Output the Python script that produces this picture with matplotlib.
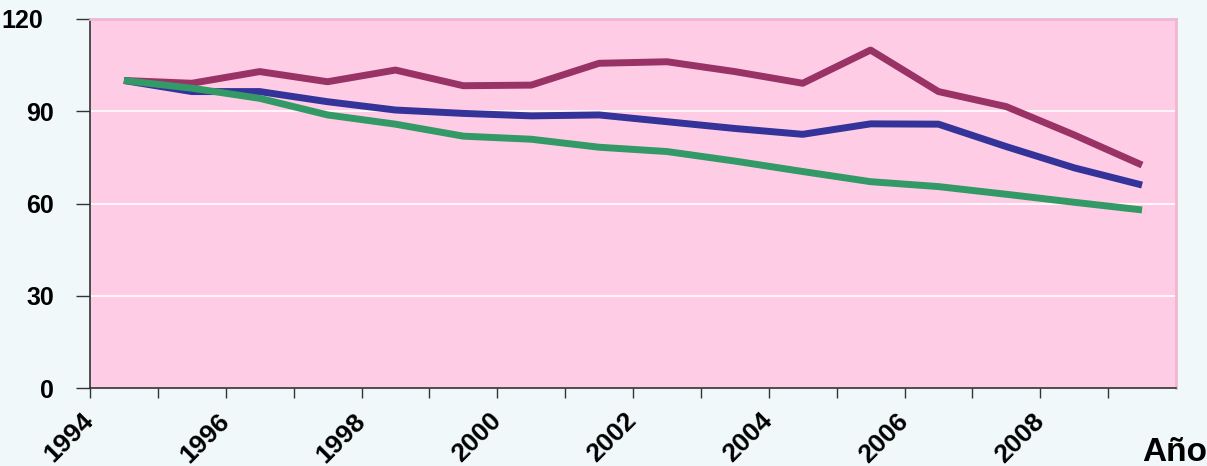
import matplotlib
matplotlib.use("Agg")
import matplotlib.pyplot as plt
import matplotlib.ticker as mticker
from matplotlib.transforms import ScaledTranslation
import numpy as np

plt.rcParams.update({
    "font.family": ["Liberation Sans", "DejaVu Sans"],
    "font.weight": "bold",
})

# Index values (base 1994 = 100), one value per year
years = list(range(1994, 2010))
serie_roja = [100, 99.1, 102.9, 99.6, 103.4, 98.3, 98.5, 105.6, 106.1, 102.9,
              99.1, 109.9, 96.4, 91.5, 82.3, 72.5]
serie_azul = [100, 96.4, 96.4, 93.1, 90.4, 89.3, 88.5, 88.8, 86.6, 84.4,
              82.5, 85.9, 85.8, 78.5, 71.6, 66.0]
serie_verde = [100, 97.5, 94.2, 88.8, 85.8, 81.9, 80.9, 78.3, 76.9, 73.8,
               70.4, 67.1, 65.5, 63.0, 60.4, 57.9]
ytick_vals = [0, 30, 60, 90, 120]
xtick_labels = ["1994", "1996", "1998", "2000", "2002", "2004", "2006", "2008"]

fig = plt.figure(figsize=(12.07, 4.66), dpi=100, facecolor="#F0F8FA")
ax = fig.add_axes([90 / 1207, 1 - 388 / 466, (1176 - 90) / 1207, (388 - 19) / 466])
ax.set_facecolor("#FFCCE6")

# points sit in the middle of each year category
xs = np.array(years) + 0.5
lw = 5
ax.plot(xs, serie_roja, color="#993366", linewidth=lw, solid_capstyle="butt", zorder=3)
ax.plot(xs, serie_azul, color="#333399", linewidth=lw, solid_capstyle="butt", zorder=3)
ax.plot(xs, serie_verde, color="#339966", linewidth=lw, solid_capstyle="butt", zorder=3)

ax.set_xlim(1994, 2010)
ax.set_ylim(0, 120)
ax.set_yticks(ytick_vals)
ax.set_yticklabels([str(v) for v in ytick_vals])
for v in ytick_vals[1:-1]:
    ax.axhline(v, color="white", linewidth=1.2, zorder=1)

ax.xaxis.set_major_locator(mticker.FixedLocator(range(1994, 2010, 2)))
ax.xaxis.set_minor_locator(mticker.FixedLocator(range(1995, 2011, 2)))
ax.set_xticklabels(xtick_labels, rotation=45, ha="right", va="center",
                   rotation_mode="anchor", fontsize=19, fontweight="bold")
for lab in ax.get_xticklabels():
    lab.set_transform(lab.get_transform() + ScaledTranslation(-0.08, 0, fig.dpi_scale_trans))

ax.tick_params(axis="x", which="both", direction="out", length=7, width=1, color="#333333")
ax.tick_params(axis="x", which="major", pad=14)
ax.tick_params(axis="y", direction="out", length=10, width=1, color="#333333",
               labelsize=18, pad=16)
ylabs = ax.get_yticklabels()
ylabs[-1].set_transform(ylabs[-1].get_transform() + ScaledTranslation(-0.11, 0, fig.dpi_scale_trans))

for side in ["left", "bottom"]:
    ax.spines[side].set_color("#333333")
    ax.spines[side].set_linewidth(1.2)
for side in ["top", "right"]:
    ax.spines[side].set_color("#EEB8D2")
    ax.spines[side].set_linewidth(2)

fig.text(1207 / 1207, 5 / 466, "Año", ha="right", va="baseline",
         fontsize=24, fontweight="bold")

fig.savefig("out.png", dpi=100, facecolor=fig.get_facecolor())
